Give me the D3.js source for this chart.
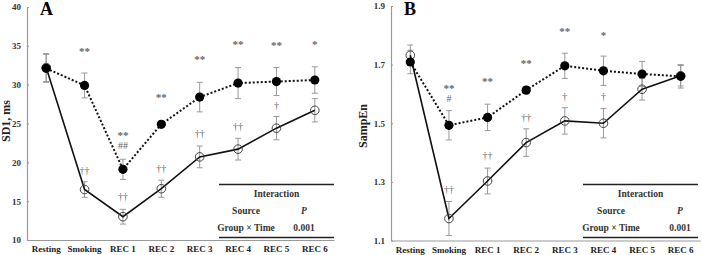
<!DOCTYPE html>
<html>
<head>
<meta charset="utf-8">
<script src="https://cdn.jsdelivr.net/npm/d3@7"></script>
<style>
  body { margin: 0; background: #fff; }
  svg { display: block; font-family: "Liberation Serif", "DejaVu Serif", serif; }
</style>
</head>
<body>
<svg id="chart" width="702" height="255"></svg>
<script>
// categories shared by both panels
const categories = ["Resting", "Smoking", "REC 1", "REC 2", "REC 3", "REC 4", "REC 5", "REC 6"];

// Panel A: SD1, ms
const sd1Filled = [32.1, 29.9, 19.1, 24.9, 28.4, 30.2, 30.4, 30.6];
const sd1FilledErr = [1.8, 1.6, 1.3, 0.4, 1.9, 2.0, 1.8, 1.7];
const sd1Open = [32.2, 16.5, 13.0, 16.6, 20.7, 21.7, 24.4, 26.7];
const sd1OpenErr = [1.8, 1.0, 0.95, 1.1, 1.4, 1.4, 1.5, 1.5];
const sd1Ticks = [10, 15, 20, 25, 30, 35, 40];
// [category, text, y position in data units]
const sd1Marks = [
  ["Smoking", "**", 34.7], ["REC 1", "**", 23.8], ["REC 1", "##", 22.0],
  ["REC 2", "**", 28.7], ["REC 3", "**", 33.6], ["REC 4", "**", 35.5],
  ["REC 5", "**", 35.4], ["REC 6", "*", 35.6],
  ["Smoking", "††", 18.75], ["REC 1", "††", 15.4], ["REC 2", "††", 19.0],
  ["REC 3", "††", 23.5], ["REC 4", "††", 24.4], ["REC 5", "†", 27.2]
];

// Panel B: SampEn
const sampFilled = [1.709, 1.493, 1.520, 1.613, 1.696, 1.679, 1.668, 1.660];
const sampFilledErr = [0.04, 0.05, 0.045, 0.012, 0.043, 0.05, 0.043, 0.04];
const sampOpen = [1.732, 1.175, 1.303, 1.434, 1.508, 1.500, 1.616, 1.662];
const sampOpenErr = [0.035, 0.058, 0.044, 0.047, 0.045, 0.05, 0.037, 0.035];
const sampTicks = [1.1, 1.3, 1.5, 1.7, 1.9];
const sampMarks = [
  ["Smoking", "**", 1.630], ["Smoking", "#", 1.579], ["REC 1", "**", 1.654],
  ["REC 2", "**", 1.715], ["REC 2", "††", 1.517], ["REC 3", "**", 1.824],
  ["REC 3", "†", 1.586], ["REC 4", "*", 1.810], ["REC 4", "†", 1.586],
  ["Smoking", "††", 1.269], ["REC 1", "††", 1.385]
];

const svg = d3.select("#chart");

function drawPanel(opt) {
  const g = svg.append("g");
  const x = d3.scaleBand().domain(categories).range([opt.x0, opt.x1]);
  const y = d3.scaleLinear().domain(opt.domain).range([opt.y0, opt.y1]);
  const cx = c => x(c) + x.bandwidth() / 2;

  // axes
  const yAxis = g.append("g")
    .attr("transform", `translate(${opt.x0},0)`)
    .call(d3.axisLeft(y).tickValues(opt.ticks).tickSizeInner(-2).tickSizeOuter(0)
      .tickPadding(6).tickFormat(opt.fmt));
  yAxis.select(".domain").attr("stroke", "#999").attr("stroke-width", 1.2);
  yAxis.selectAll(".tick line").attr("stroke", "#999");
  yAxis.selectAll("text").attr("font-size", 9).attr("font-weight", "bold").attr("fill", "#333")
    .attr("font-family", "Liberation Serif, serif");

  const xAxis = g.append("g")
    .attr("transform", `translate(0,${opt.y0})`)
    .call(d3.axisBottom(x).tickSize(0).tickPadding(6));
  xAxis.select(".domain").attr("stroke", "#999").attr("stroke-width", 1.2);
  xAxis.selectAll("text").attr("font-size", 9).attr("font-weight", "bold").attr("fill", "#222")
    .attr("font-family", "Liberation Serif, serif");

  // axis title
  g.append("text")
    .attr("transform", `translate(${opt.titleX},${opt.titleY}) rotate(-90)`)
    .attr("text-anchor", "middle")
    .attr("dominant-baseline", "middle")
    .attr("font-size", 12).attr("font-weight", "bold").attr("fill", "#222")
    .text(opt.title);

  // panel letter
  g.append("text")
    .attr("x", opt.x0 + 13).attr("y", 15)
    .attr("font-size", 18).attr("font-weight", "bold")
    .text(opt.letter);

  // interaction table
  const tl = opt.table;
  g.append("line").attr("x1", tl.x0).attr("x2", tl.x1).attr("y1", 184.5).attr("y2", 184.5)
    .attr("stroke", "#222").attr("stroke-width", 1.4);
  g.append("line").attr("x1", tl.x0).attr("x2", tl.x1).attr("y1", 237.5).attr("y2", 237.5)
    .attr("stroke", "#222").attr("stroke-width", 1.4);
  const tt = (tx, ty, s, italic) => g.append("text")
    .attr("x", tx).attr("y", ty).attr("text-anchor", "middle").attr("dominant-baseline", "middle")
    .attr("font-size", 9.5).attr("font-weight", "bold").attr("fill", "#333")
    .attr("font-style", italic ? "italic" : null).text(s);
  tt((tl.x0 + tl.x1) / 2, 194.5, "Interaction");
  tt(tl.c1, 212, "Source");
  tt(tl.c2, 212, "P", true);
  tt(tl.c1, 229, "Group × Time");
  tt(tl.c2, 229, "0.001");

  const errBars = (vals, errs) => {
    categories.forEach((c, i) => {
      const top = y(vals[i] + errs[i]), bot = y(vals[i] - errs[i]);
      g.append("line").attr("x1", cx(c)).attr("x2", cx(c)).attr("y1", top).attr("y2", bot)
        .attr("stroke", "#999").attr("stroke-width", 1);
      [top, bot].forEach(v => g.append("line").attr("x1", cx(c) - 3).attr("x2", cx(c) + 3)
        .attr("y1", v).attr("y2", v).attr("stroke", "#999").attr("stroke-width", 1));
    });
  };
  errBars(opt.open, opt.openErr);
  errBars(opt.filled, opt.filledErr);

  const line = d3.line().x((d, i) => cx(categories[i])).y(d => y(d));

  // solid line with open circles
  g.append("path").datum(opt.open).attr("d", line)
    .attr("fill", "none").attr("stroke", "#111").attr("stroke-width", 1.6);
  g.selectAll(".open").data(opt.open).enter().append("circle")
    .attr("cx", (d, i) => cx(categories[i])).attr("cy", d => y(d)).attr("r", 4.3)
    .attr("fill", "none").attr("stroke", "#444").attr("stroke-width", 1);

  // dotted line with filled circles
  g.append("path").datum(opt.filled).attr("d", line)
    .attr("fill", "none").attr("stroke", "#111").attr("stroke-width", 2)
    .attr("stroke-dasharray", "2,2");
  g.selectAll(".filled").data(opt.filled).enter().append("circle")
    .attr("cx", (d, i) => cx(categories[i])).attr("cy", d => y(d)).attr("r", 4.6)
    .attr("fill", "#000");

  // significance marks
  opt.marks.forEach(m => {
    const star = m[1].includes("*");
    g.append("text")
      .attr("x", cx(m[0])).attr("y", y(m[2]) + (star ? 4 : 0))
      .attr("text-anchor", "middle").attr("dominant-baseline", "middle")
      .attr("font-size", star ? 11 : 10).attr("fill", "#666")
      .attr("font-weight", star ? "bold" : null)
      .text(m[1]);
  });
}

drawPanel({
  x0: 27, x1: 334, y0: 240, y1: 7, domain: [10, 40], ticks: sd1Ticks, fmt: d3.format("d"),
  title: "SD1, ms", titleX: 7, titleY: 121, letter: "A",
  filled: sd1Filled, filledErr: sd1FilledErr, open: sd1Open, openErr: sd1OpenErr, marks: sd1Marks,
  table: { x0: 219, x1: 334, c1: 246, c2: 304 }
});

drawPanel({
  x0: 391, x1: 700, y0: 240.5, y1: 6, domain: [1.1, 1.9], ticks: sampTicks, fmt: d3.format(".1f"),
  title: "SampEn", titleX: 364, titleY: 126, letter: "B",
  filled: sampFilled, filledErr: sampFilledErr, open: sampOpen, openErr: sampOpenErr, marks: sampMarks,
  table: { x0: 583, x1: 698, c1: 611, c2: 680 }
});
</script>
</body>
</html>
